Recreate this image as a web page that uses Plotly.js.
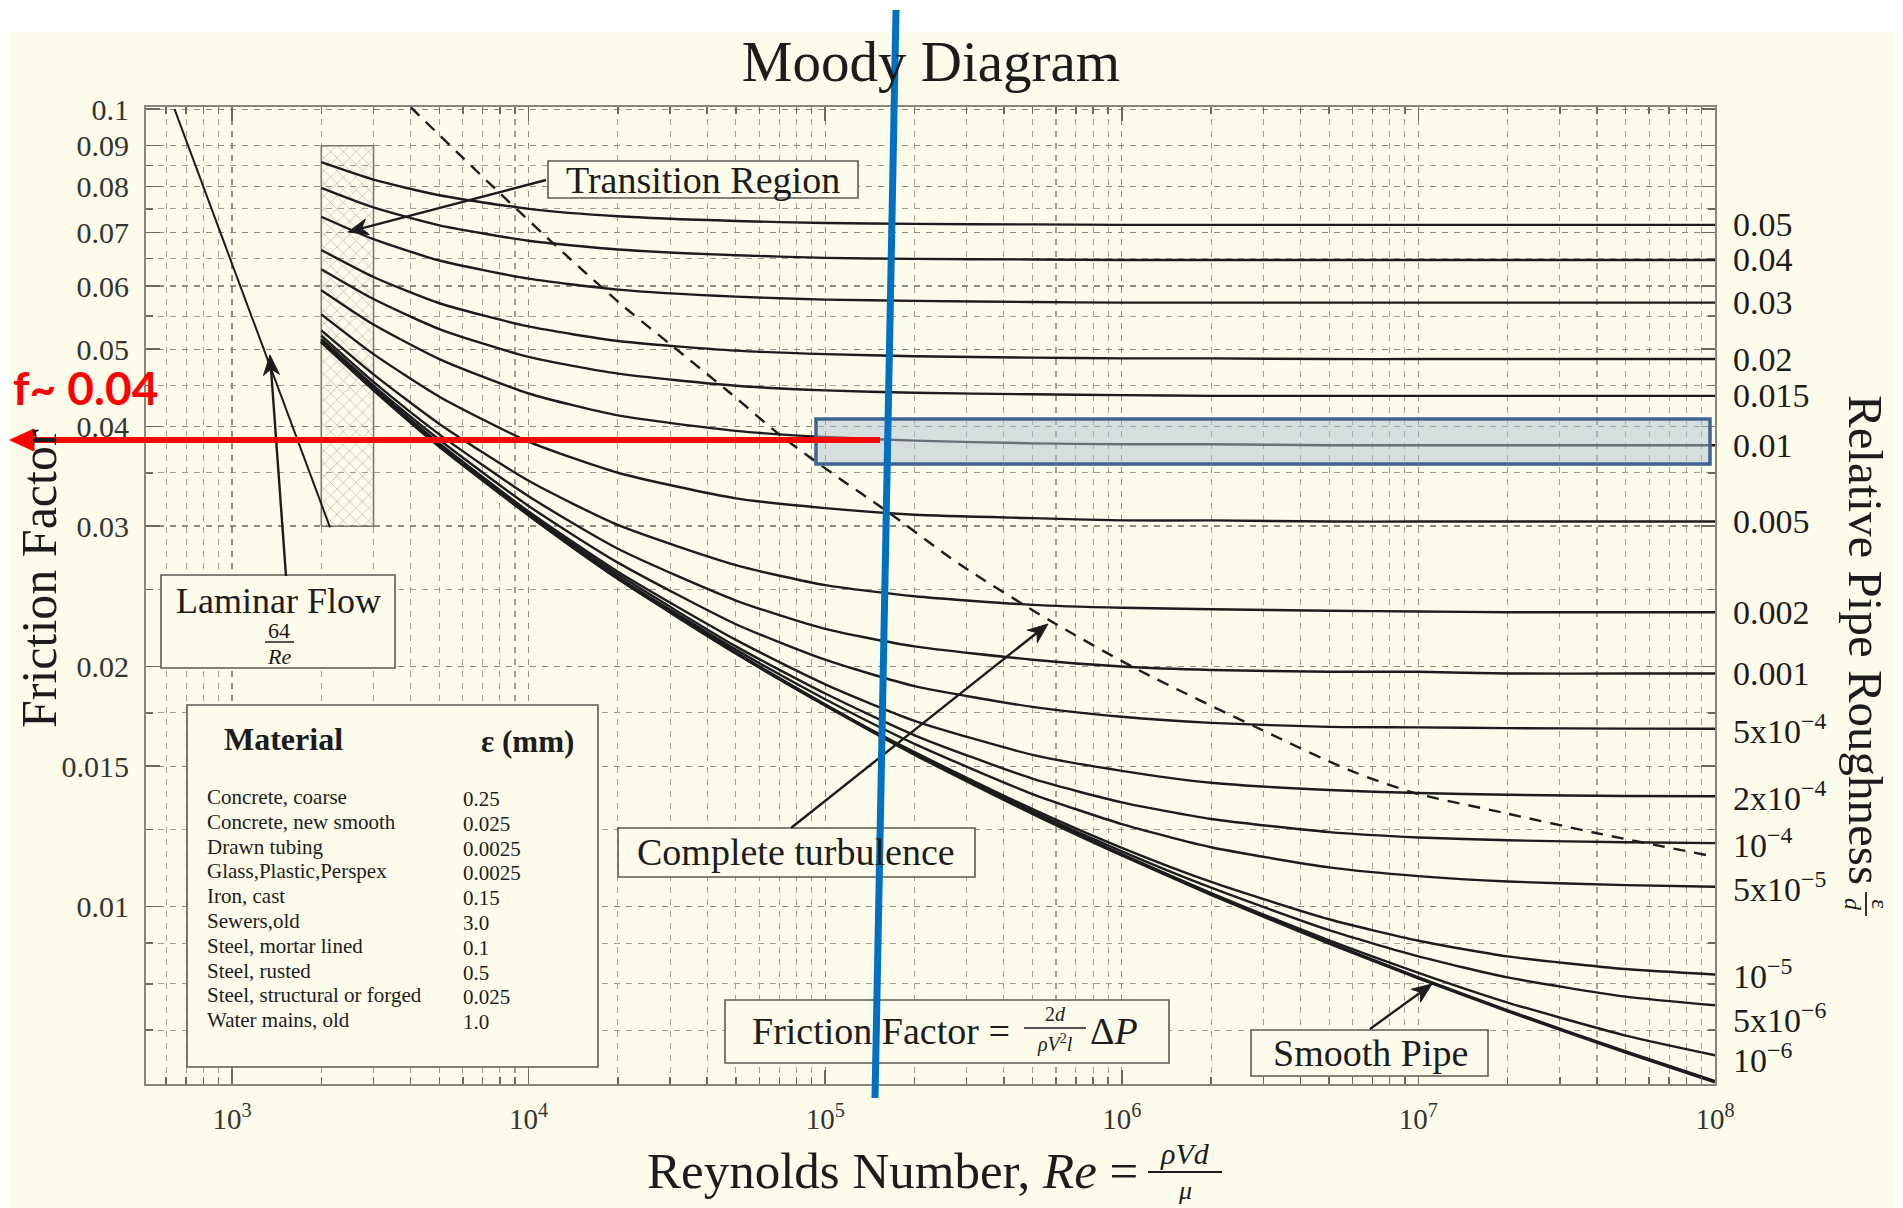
<!DOCTYPE html>
<html><head><meta charset="utf-8">
<script src="https://cdn.plot.ly/plotly-3.0.1.min.js"></script>
<style>html,body{margin:0;padding:0;background:#fff}#chart{width:1903px;height:1208px}</style>
</head><body><div id="chart"></div>
<script>
// ---------------- DATA ----------------
const reynolds = [2000, 3000, 5000, 1e4, 2e4, 5e4, 1e5, 2e5, 5e5, 1e6, 2e6, 5e6, 1e7, 2e7, 5e7, 1e8];

const f_rr_0_05   = [0.0858,0.0816,0.0780,0.0750,0.0734,0.0724,0.0720,0.0718,0.0717,0.0716,0.0716,0.0716,0.0716,0.0716,0.0716,0.0716];
const f_rr_0_04   = [0.0797,0.0753,0.0715,0.0684,0.0667,0.0656,0.0651,0.0649,0.0648,0.0647,0.0647,0.0647,0.0647,0.0647,0.0647,0.0647];
const f_rr_0_03   = [0.0733,0.0687,0.0646,0.0613,0.0594,0.0582,0.0577,0.0575,0.0573,0.0572,0.0572,0.0572,0.0572,0.0572,0.0572,0.0572];
const f_rr_0_02   = [0.0666,0.0616,0.0571,0.0534,0.0512,0.0498,0.0493,0.0490,0.0488,0.0487,0.0487,0.0486,0.0486,0.0486,0.0486,0.0486];
const f_rr_0_015  = [0.0630,0.0578,0.0530,0.0489,0.0466,0.0450,0.0444,0.0441,0.0439,0.0438,0.0437,0.0437,0.0437,0.0437,0.0437,0.0437];
const f_rr_0_01   = [0.0593,0.0537,0.0486,0.0440,0.0413,0.0395,0.0388,0.0384,0.0381,0.0380,0.0380,0.0379,0.0379,0.0379,0.0379,0.0379];
const f_rr_0_005  = [0.0553,0.0493,0.0436,0.0383,0.0350,0.0325,0.0316,0.0310,0.0307,0.0305,0.0305,0.0304,0.0304,0.0304,0.0304,0.0304];
const f_rr_0_002  = [0.0528,0.0465,0.0403,0.0342,0.0301,0.0268,0.0253,0.0245,0.0239,0.0237,0.0236,0.0235,0.02345,0.0234,0.0234,0.0234];
const f_rr_0_001  = [0.0520,0.0455,0.0391,0.0327,0.0281,0.0242,0.0223,0.0212,0.0204,0.0200,0.0198,0.0197,0.0197,0.0196,0.0196,0.0196];
const f_rr_5e_4   = [0.0515,0.0450,0.0385,0.0318,0.0270,0.0226,0.0204,0.0189,0.0178,0.0173,0.0170,0.0168,0.01678,0.01674,0.01672,0.01671];
const f_rr_2e_4   = [0.0513,0.0447,0.0381,0.0313,0.0263,0.0216,0.0190,0.0171,0.0155,0.0148,0.0143,0.0140,0.01388,0.01381,0.01376,0.01375];
const f_rr_1e_4   = [0.0512,0.0446,0.0380,0.0311,0.0261,0.0212,0.0185,0.0164,0.01447,0.01351,0.01288,0.01240,0.01221,0.01211,0.01204,0.01201];
const f_rr_5e_5   = [0.0511,0.0445,0.0379,0.0311,0.0259,0.0210,0.0182,0.0160,0.01384,0.01269,0.01187,0.01120,0.01092,0.01075,0.01064,0.01059];
const f_rr_1e_5   = [0.0511,0.0445,0.0379,0.0310,0.0258,0.0208,0.0179,0.01562,0.01325,0.01185,0.01074,0.00964,0.00906,0.00866,0.00835,0.00822];
const f_rr_5e_6   = [0.0511,0.0445,0.0379,0.0310,0.0258,0.0208,0.0179,0.01558,0.01317,0.01173,0.01056,0.00934,0.00866,0.00815,0.00771,0.00752];
const f_rr_1e_6   = [0.0511,0.0445,0.0378,0.0310,0.0258,0.0208,0.0179,0.01554,0.01311,0.01163,0.01040,0.00907,0.00826,0.00758,0.00689,0.00651];
const f_smooth    = [0.0511,0.0445,0.0378,0.0310,0.0258,0.0208,0.0179,0.01553,0.01309,0.01161,0.01036,0.00900,0.00814,0.00740,0.00657,0.00603];

const roughnessLabels = ['0.05','0.04','0.03','0.02','0.015','0.01','0.005','0.002','0.001',
  '5x10<sup>−4</sup>','2x10<sup>−4</sup>','10<sup>−4</sup>','5x10<sup>−5</sup>',
  '10<sup>−5</sup>','5x10<sup>−6</sup>','10<sup>−6</sup>'];

const laminarRe = [640, 2140];
const laminarF  = [0.1, 0.0299];

const boundaryRe = [4000, 7760, 13200, 21000, 31100, 47700, 70600, 112000, 160000, 283000, 577000, 1140000, 2970000, 5850000, 9600000, 19600000, 40000000, 94000000];
const boundaryF  = [0.1006, 0.0793, 0.0659, 0.0565, 0.0502, 0.0441, 0.0390, 0.0344, 0.0314, 0.0269, 0.0228, 0.0198, 0.01665, 0.01483, 0.0139, 0.0131, 0.01236, 0.0116];

const transitionRe = [2000, 3000, 3000, 2000, 2000];
const transitionF  = [0.03, 0.03, 0.09, 0.09, 0.03];

const xTickVals = [1e3, 1e4, 1e5, 1e6, 1e7, 1e8];
const xTickText = ['10<sup>3</sup>','10<sup>4</sup>','10<sup>5</sup>','10<sup>6</sup>','10<sup>7</sup>','10<sup>8</sup>'];
const yTickVals = [0.01, 0.015, 0.02, 0.03, 0.04, 0.05, 0.06, 0.07, 0.08, 0.09, 0.1];
const yTickText = ['0.01','0.015','0.02','0.03','0.04','0.05','0.06','0.07','0.08','0.09','0.1'];
const yMinorVals = [0.007, 0.008, 0.009, 0.0125, 0.0175, 0.025, 0.035, 0.045, 0.055, 0.065, 0.075, 0.085];

const materials = ['Concrete, coarse','Concrete, new smooth','Drawn tubing','Glass,Plastic,Perspex','Iron, cast',
  'Sewers,old','Steel, mortar lined','Steel, rusted','Steel, structural or forged','Water mains, old'];
const materialEps = ['0.25','0.025','0.0025','0.0025','0.15','3.0','0.1','0.5','0.025','1.0'];

// ---------------- STYLE / LAYOUT ----------------
const SERIF = '"Liberation Serif","Times New Roman",serif';
const INK = '#1c1c1c';
const CREAM = '#fdfbea';
const L = 146, R = 1715, T = 107, B = 1084;
const px = x => (x - L) / (R - L);
const py = y => (B - y) / (B - T);

const roughnessSeries = [f_rr_0_05, f_rr_0_04, f_rr_0_03, f_rr_0_02, f_rr_0_015, f_rr_0_01, f_rr_0_005,
  f_rr_0_002, f_rr_0_001, f_rr_5e_4, f_rr_2e_4, f_rr_1e_4, f_rr_5e_5, f_rr_1e_5, f_rr_5e_6, f_rr_1e_6];
// small vertical nudges (px) of the right-hand labels, as placed in the reference
const labelNudge = [0,0,0,0,0,0,0,0,0,0,0,0,0,0,-13,-3];

const traces = [];
traces.push({x: transitionRe, y: transitionF, mode: 'lines', fill: 'toself',
  fillcolor: 'rgba(0,0,0,0)',
  fillpattern: {shape: 'x', size: 9, solidity: 0.1, fgcolor: '#9a948a', bgcolor: 'rgba(0,0,0,0)'},
  line: {color: '#7a756b', width: 1.5}, hoverinfo: 'skip'});
roughnessSeries.forEach(s => traces.push({x: reynolds, y: s, mode: 'lines',
  line: {color: INK, width: 2.4, shape: 'spline', smoothing: 0.6}, hoverinfo: 'skip'}));
traces.push({x: reynolds, y: f_smooth, mode: 'lines',
  line: {color: INK, width: 3.6, shape: 'spline', smoothing: 0.6}, hoverinfo: 'skip'});
traces.push({x: laminarRe, y: laminarF, mode: 'lines', line: {color: INK, width: 2}, hoverinfo: 'skip'});
traces.push({x: boundaryRe, y: boundaryF, mode: 'lines',
  line: {color: INK, width: 2.4, dash: '12px,9px', shape: 'spline', smoothing: 0.8}, hoverinfo: 'skip'});

const xMinor = [];
[100, 1e3, 1e4, 1e5, 1e6, 1e7].forEach(d => { for (let k = 2; k <= 9; k++) xMinor.push(k * d); });

function txt(text, x, y, size, extra) {
  return Object.assign({xref: 'paper', yref: 'paper', x: px(x), y: py(y), text: text, showarrow: false,
    xanchor: 'center', yanchor: 'middle', font: {family: SERIF, size: size, color: INK}}, extra || {});
}
function seg(x0, y0, x1, y1, color, width) {
  return {type: 'line', xref: 'paper', yref: 'paper', x0: px(x0), x1: px(x1), y0: py(y0), y1: py(y1),
    line: {color: color, width: width}, layer: 'above'};
}
function box(x0, y0, x1, y1) {
  return {type: 'rect', xref: 'paper', yref: 'paper', x0: px(x0), x1: px(x1), y0: py(y1), y1: py(y0),
    fillcolor: CREAM, line: {color: '#5e5a53', width: 1.6}, layer: 'above'};
}
// arrow = shaft line + head path (pixel geometry converted to paper coords)
function arrowShapes(tipX, tipY, tailX, tailY, color, width, headLen, headHalf, notch) {
  const dx = tipX - tailX, dy = tipY - tailY, len = Math.hypot(dx, dy);
  const ux = dx / len, uy = dy / len, nx = -uy, ny = ux;
  const bx = tipX - headLen * ux, by = tipY - headLen * uy;
  const mx = tipX - (headLen - notch) * ux, my = tipY - (headLen - notch) * uy;
  const P = (x, y) => px(x).toFixed(5) + ',' + py(y).toFixed(5);
  const path = 'M' + P(tipX, tipY) + ' L' + P(bx + headHalf * nx, by + headHalf * ny) +
    ' L' + P(mx, my) + ' L' + P(bx - headHalf * nx, by - headHalf * ny) + ' Z';
  return [seg(tailX, tailY, mx, my, color, width),
    {type: 'path', xref: 'paper', yref: 'paper', path: path, fillcolor: color,
     line: {color: color, width: 1}, layer: 'above'}];
}

const shapes = [
  {type: 'rect', xref: 'paper', yref: 'paper', x0: px(0), x1: px(1903), y0: py(32), y1: py(0), fillcolor: '#ffffff', line: {width: 0}, layer: 'below'},
  {type: 'rect', xref: 'paper', yref: 'paper', x0: px(0), x1: px(9), y0: py(1208), y1: py(0), fillcolor: '#ffffff', line: {width: 0}, layer: 'below'},
  {type: 'rect', xref: 'paper', yref: 'paper', x0: px(1894), x1: px(1903), y0: py(1208), y1: py(0), fillcolor: '#ffffff', line: {width: 0}, layer: 'below'},
  box(548, 161, 858, 198),
  box(161, 575, 395, 668),
  box(187, 705, 598, 1067),
  box(618, 828, 975, 877),
  box(725, 1000, 1169, 1063),
  box(1251, 1030, 1488, 1076),
  seg(265, 642, 294, 642, INK, 1.5),
  seg(1024, 1028, 1086, 1028, INK, 1.5),
  seg(1148, 1172, 1222, 1172, INK, 2),
  seg(1866, 892, 1866, 916, INK, 1.8),
  {type: 'rect', xref: 'paper', yref: 'paper', x0: px(816), x1: px(1710), y0: py(464), y1: py(419),
    fillcolor: 'rgba(178,196,210,0.5)', line: {color: '#3f6491', width: 3.5}, layer: 'above'}
];
shapes.push(...arrowShapes(348, 232, 546, 180, INK, 2.4, 20, 8, 6));
shapes.push(...arrowShapes(270, 355, 286, 576, INK, 2.4, 20, 8, 6));
shapes.push(...arrowShapes(1048, 624, 791, 828, INK, 2.4, 20, 8, 6));
shapes.push(...arrowShapes(1432, 984, 1370, 1029, INK, 2.4, 20, 8, 6));
shapes.push(...arrowShapes(10, 440, 880, 440, '#ff0000', 6, 24, 11, 0));
shapes.push(seg(896, 10, 875, 1098, '#0070c0', 7));

const annotations = [];
annotations.push(txt('Reynolds Number, <i>Re</i> =', 1140, 1171, 51, {xanchor: 'right'}));
annotations.push(txt('<i>ρVd</i>', 1185, 1153, 30));
annotations.push(txt('<i>μ</i>', 1185, 1190, 26));
annotations.push(txt('Friction Factor', 39, 578, 50, {textangle: -90}));
annotations.push(txt('Relative Pipe Roughness', 1866, 640, 49, {textangle: 90}));
annotations.push(txt('ε', 1880, 904, 24, {textangle: 90}));
annotations.push(txt('<i>d</i>', 1853, 904, 24, {textangle: 90}));
roughnessSeries.forEach((s, i) => {
  annotations.push({xref: 'paper', yref: 'y', x: px(1731), y: Math.log10(s[s.length - 1]),
    yshift: labelNudge[i], text: roughnessLabels[i], showarrow: false, xanchor: 'left', yanchor: 'middle',
    font: {family: SERIF, size: 34, color: INK}});
});
annotations.push(txt('Transition Region', 703, 180, 38));
annotations.push(txt('Laminar Flow', 278, 601, 36));
annotations.push(txt('64', 279, 630, 22));
annotations.push(txt('<i>Re</i>', 279, 656, 22));
annotations.push(txt('Complete turbulence', 796, 852, 38));
annotations.push(txt('Friction Factor =', 1012, 1031, 38, {xanchor: 'right'}));
annotations.push(txt('2<i>d</i>', 1055, 1014, 20));
annotations.push(txt('<i>ρV</i><sup>2</sup><i>l</i>', 1055, 1043, 20));
annotations.push(txt('Δ<i>P</i>', 1088, 1031, 38, {xanchor: 'left'}));
annotations.push(txt('Smooth Pipe', 1370, 1053, 38));
annotations.push(txt('<b>Material</b>', 222, 739, 32, {xanchor: 'left'}));
annotations.push(txt('<b>ε (mm)</b>', 479, 741, 31, {xanchor: 'left'}));
materials.forEach((m, i) => {
  const y = 797 + i * 24.8;
  annotations.push(txt(m, 205, y, 21, {xanchor: 'left'}));
  annotations.push(txt(materialEps[i], 461, y + 2, 21, {xanchor: 'left'}));
});
annotations.push({xref: 'paper', yref: 'paper', x: px(11), y: py(387), text: '<b>f~ 0.04</b>', showarrow: false,
  xanchor: 'left', yanchor: 'middle', font: {family: 'Lato, "Open Sans", sans-serif', size: 46, color: '#ff0000'}});

const gridCol = '#8f897e';
const layout = {
  width: 1903, height: 1208,
  margin: {l: L, r: 1903 - R, t: T, b: 1208 - B, pad: 0},
  paper_bgcolor: CREAM, plot_bgcolor: CREAM,
  showlegend: false,
  title: {text: 'Moody Diagram', x: 931 / 1903, xref: 'container', xanchor: 'center',
    y: 1 - 61 / 1208, yref: 'container', yanchor: 'middle',
    font: {family: SERIF, size: 57, color: INK}},
  xaxis: {type: 'log', range: [2.71, 8], tickvals: xTickVals, ticktext: xTickText,
    tickfont: {family: SERIF, size: 29, color: '#333'}, ticklabelstandoff: 8,
    ticks: 'inside', ticklen: 14, tickwidth: 1.5, tickcolor: '#6e695f',
    showline: true, linecolor: '#8a857c', linewidth: 2, mirror: 'ticks',
    showgrid: true, gridcolor: gridCol, gridwidth: 1.3, griddash: '6px,6px', zeroline: false,
    minor: {tickvals: xMinor, ticks: 'inside', ticklen: 7, tickcolor: '#6e695f',
      showgrid: true, gridcolor: '#a39d92', gridwidth: 1.1, griddash: '6px,6px'}},
  yaxis: {type: 'log', range: [Math.log10(0.005991), -0.99724], tickvals: yTickVals, ticktext: yTickText,
    tickfont: {family: SERIF, size: 30, color: '#333'}, ticklabelstandoff: 9,
    ticks: 'inside', ticklen: 14, tickwidth: 1.5, tickcolor: '#6e695f',
    showline: true, linecolor: '#8a857c', linewidth: 2, mirror: 'ticks',
    showgrid: true, gridcolor: gridCol, gridwidth: 1.3, griddash: '6px,6px', zeroline: false,
    minor: {tickvals: yMinorVals, ticks: 'inside', ticklen: 7, tickcolor: '#6e695f',
      showgrid: true, gridcolor: '#a39d92', gridwidth: 1.1, griddash: '6px,6px'}},
  shapes: shapes,
  annotations: annotations
};

Plotly.newPlot('chart', traces, layout, {displayModeBar: false, staticPlot: true});
</script>
</body></html>
